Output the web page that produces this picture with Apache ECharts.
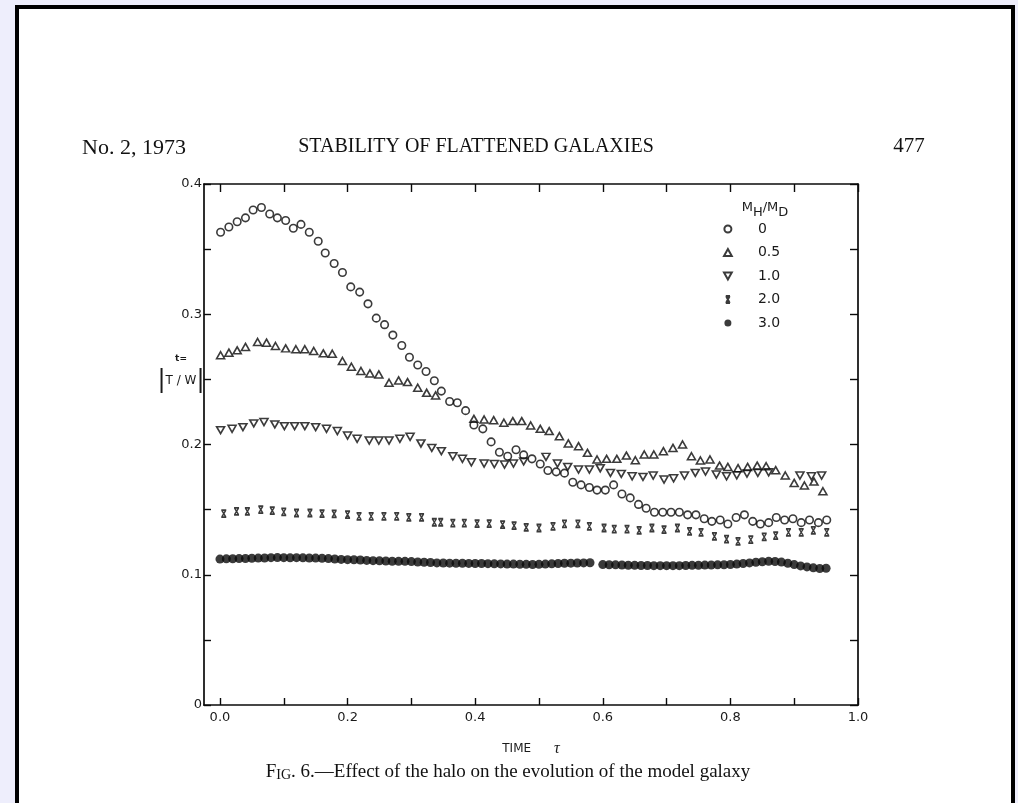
<!DOCTYPE html>
<html><head><meta charset="utf-8">
<script src="https://cdn.jsdelivr.net/npm/echarts@6/dist/echarts.min.js"></script>
<style>
html,body{margin:0;padding:0;background:#eeeefc;width:1018px;height:803px;overflow:hidden;}
#page{position:absolute;left:15px;top:5px;width:992px;height:900px;border:4px solid #000;border-bottom:none;background:#fff;}
#chart{position:absolute;left:0;top:0;width:1018px;height:803px;}
</style></head><body>
<div id="page"></div><div id="chart"></div>
<script>
// ---- data ----
const seriesNames = ['0', '0.5', '1.0', '2.0', '3.0'];

const t0 = [0.001,0.014,0.027,0.040,0.052,0.065,0.078,0.090,0.103,0.115,0.127,0.140,0.154,0.165,0.179,0.192,0.205,0.219,0.232,0.245,0.258,0.271,0.285,0.297,0.310,0.323,0.336,0.347,0.360,0.372,0.385,0.398,0.412,0.425,0.438,0.451,0.464,0.476,0.489,0.502,0.514,0.527,0.540,0.553,0.566,0.579,0.591,0.604,0.617,0.630,0.643,0.656,0.668,0.681,0.694,0.707,0.720,0.733,0.746,0.759,0.771,0.784,0.796,0.809,0.822,0.835,0.847,0.860,0.872,0.885,0.898,0.911,0.924,0.938,0.951];
const v0 = [0.363,0.367,0.371,0.374,0.380,0.382,0.377,0.374,0.372,0.366,0.369,0.363,0.356,0.347,0.339,0.332,0.321,0.317,0.308,0.297,0.292,0.284,0.276,0.267,0.261,0.256,0.249,0.241,0.233,0.232,0.226,0.215,0.212,0.202,0.194,0.191,0.196,0.192,0.189,0.185,0.180,0.179,0.178,0.171,0.169,0.167,0.165,0.165,0.169,0.162,0.159,0.154,0.151,0.148,0.148,0.148,0.148,0.146,0.146,0.143,0.141,0.142,0.139,0.144,0.146,0.141,0.139,0.140,0.144,0.142,0.143,0.140,0.142,0.140,0.142];

const t05 = [0.001,0.014,0.027,0.040,0.059,0.073,0.087,0.103,0.119,0.133,0.147,0.162,0.176,0.192,0.206,0.221,0.235,0.249,0.265,0.280,0.294,0.310,0.324,0.338,0.398,0.414,0.429,0.445,0.459,0.473,0.487,0.502,0.516,0.532,0.546,0.562,0.576,0.591,0.606,0.622,0.637,0.651,0.665,0.680,0.695,0.710,0.725,0.739,0.753,0.768,0.783,0.796,0.812,0.827,0.842,0.856,0.871,0.886,0.900,0.916,0.931,0.945];
const v05 = [0.2685,0.2705,0.2723,0.2749,0.2787,0.2782,0.2756,0.2738,0.2731,0.2731,0.2718,0.2700,0.2697,0.2641,0.2597,0.2564,0.2546,0.2538,0.2474,0.2492,0.2479,0.2436,0.2397,0.2377,0.2197,0.2192,0.2187,0.2167,0.2180,0.2180,0.2146,0.2120,0.2103,0.2064,0.2008,0.1987,0.1936,0.1885,0.1890,0.1890,0.1915,0.1879,0.1923,0.1923,0.1949,0.1974,0.2000,0.1910,0.1877,0.1885,0.1838,0.1828,0.1818,0.1828,0.1838,0.1833,0.1803,0.1762,0.1705,0.1685,0.1715,0.1641];

const t10 = [0.001,0.019,0.036,0.053,0.069,0.086,0.101,0.117,0.133,0.150,0.167,0.184,0.200,0.215,0.234,0.249,0.265,0.282,0.298,0.315,0.332,0.347,0.365,0.380,0.394,0.414,0.430,0.446,0.460,0.476,0.511,0.529,0.545,0.562,0.579,0.596,0.612,0.629,0.646,0.663,0.679,0.696,0.711,0.728,0.745,0.761,0.778,0.794,0.810,0.826,0.843,0.860,0.909,0.927,0.943];
const v10 = [0.2110,0.2120,0.2133,0.2162,0.2172,0.2154,0.2141,0.2141,0.2141,0.2133,0.2120,0.2103,0.2069,0.2044,0.2031,0.2031,0.2031,0.2044,0.2059,0.2008,0.1974,0.1949,0.1910,0.1890,0.1864,0.1854,0.1850,0.1846,0.1854,0.1870,0.1905,0.1854,0.1828,0.1808,0.1808,0.1818,0.1782,0.1774,0.1756,0.1751,0.1762,0.1731,0.1741,0.1762,0.1782,0.1792,0.1769,0.1756,0.1764,0.1777,0.1782,0.1787,0.1762,0.1756,0.1762];

const t20 = [0.006,0.026,0.043,0.064,0.082,0.100,0.120,0.141,0.160,0.179,0.200,0.218,0.237,0.257,0.277,0.296,0.316,0.336,0.346,0.365,0.383,0.403,0.422,0.443,0.461,0.480,0.500,0.522,0.540,0.561,0.579,0.602,0.618,0.638,0.657,0.677,0.696,0.717,0.736,0.754,0.775,0.794,0.812,0.832,0.853,0.871,0.891,0.911,0.930,0.951];
const v20 = [0.1469,0.1487,0.1487,0.1500,0.1492,0.1482,0.1474,0.1474,0.1469,0.1467,0.1462,0.1449,0.1449,0.1449,0.1449,0.1441,0.1441,0.1403,0.1403,0.1397,0.1397,0.1392,0.1392,0.1385,0.1377,0.1364,0.1359,0.1372,0.1390,0.1390,0.1372,0.1359,0.1351,0.1351,0.1341,0.1359,0.1346,0.1359,0.1333,0.1326,0.1295,0.1274,0.1256,0.1269,0.1290,0.1300,0.1326,0.1326,0.1341,0.1326];

const t30 = [0.00,0.01,0.02,0.03,0.04,0.05,0.06,0.07,0.08,0.09,0.10,0.11,0.12,0.13,0.14,0.15,0.16,0.17,0.18,0.19,0.20,0.21,0.22,0.23,0.24,0.25,0.26,0.27,0.28,0.29,0.30,0.31,0.32,0.33,0.34,0.35,0.36,0.37,0.38,0.39,0.40,0.41,0.42,0.43,0.44,0.45,0.46,0.47,0.48,0.49,0.50,0.51,0.52,0.53,0.54,0.55,0.56,0.57,0.58,
  0.60,0.61,0.62,0.63,0.64,0.65,0.66,0.67,0.68,0.69,0.70,0.71,0.72,0.73,0.74,0.75,0.76,0.77,0.78,0.79,0.80,0.81,0.82,0.83,0.84,0.85,0.86,0.87,0.88,0.89,0.90,0.91,0.92,0.93,0.94,0.95];
const v30 = [0.1120,0.1122,0.1123,0.1124,0.1125,0.1127,0.1128,0.1129,0.1131,0.1132,0.1131,0.1130,0.1131,0.1130,0.1129,0.1128,0.1127,0.1124,0.1121,0.1118,0.1116,0.1115,0.1113,0.1110,0.1108,0.1107,0.1106,0.1104,0.1103,0.1103,0.1101,0.1098,0.1096,0.1094,0.1091,0.1090,0.1089,0.1088,0.1088,0.1087,0.1086,0.1086,0.1085,0.1084,0.1083,0.1082,0.1082,0.1081,0.1080,0.1079,0.1080,0.1082,0.1084,0.1086,0.1088,0.1089,0.1090,0.1091,0.1092,
  0.1078,0.1077,0.1076,0.1075,0.1073,0.1072,0.1071,0.1071,0.1070,0.1070,0.1070,0.1070,0.1070,0.1071,0.1072,0.1073,0.1074,0.1075,0.1076,0.1077,0.1079,0.1082,0.1086,0.1091,0.1096,0.1100,0.1103,0.1102,0.1097,0.1088,0.1078,0.1068,0.1060,0.1053,0.1048,0.1050];

const xTickValues = [0,0.1,0.2,0.3,0.4,0.5,0.6,0.7,0.8,0.9,1.0];
const xLabelValues = [0,0.2,0.4,0.6,0.8,1.0];
const yTickValues = [0,0.05,0.1,0.15,0.2,0.25,0.3,0.35,0.4];
const yLabelValues = [0,0.1,0.2,0.3,0.4];

// ---- chart ----
const zip = (a, b) => a.map((t, i) => [t, b[i]]);
const INK = '#0a0a0a';
const SANS = '"DejaVu Sans", sans-serif';
const SERIF = '"Liberation Serif", serif';
const hollow = { color: 'rgba(0,0,0,0)', borderColor: INK, borderWidth: 1.6 };

const axisLine = { show: true, onZero: false, lineStyle: { color: INK, width: 1.7 } };
const tickStyle = { color: INK, width: 1.4 };

const chart = echarts.init(document.getElementById('chart'), null, { renderer: 'canvas' });
chart.setOption({
  backgroundColor: 'transparent',
  animation: false,
  grid: { left: 204, right: 160, top: 184, bottom: 98 },
  xAxis: [
    { type: 'value', position: 'bottom', min: -0.025, max: 1.0,
      axisLine: axisLine,
      axisTick: { show: true, inside: true, length: 7, customValues: xTickValues, lineStyle: tickStyle },
      axisLabel: { customValues: xLabelValues, formatter: v => v.toFixed(1), margin: 6,
                   fontFamily: SANS, fontSize: 13, color: '#1a1a1a' },
      splitLine: { show: false },
      name: 'TIME      {tau|τ}', nameLocation: 'middle', nameGap: 36,
      nameTextStyle: { fontFamily: SANS, fontSize: 12, color: '#1a1a1a',
        rich: { tau: { fontFamily: SERIF, fontSize: 16, fontStyle: 'italic', color: '#1a1a1a' } } } },
    { type: 'value', position: 'top', min: -0.025, max: 1.0,
      axisLine: axisLine,
      axisTick: { show: true, inside: true, length: 8, customValues: xTickValues, lineStyle: tickStyle },
      axisLabel: { show: false }, splitLine: { show: false } }
  ],
  yAxis: [
    { type: 'value', position: 'left', min: 0, max: 0.4,
      axisLine: axisLine,
      axisTick: { show: true, inside: true, length: 7, customValues: yTickValues, lineStyle: tickStyle },
      axisLabel: { customValues: yLabelValues, formatter: v => (v === 0 ? '0' : v.toFixed(1)), margin: 2,
                   fontFamily: SANS, fontSize: 13, color: '#1a1a1a' },
      splitLine: { show: false } },
    { type: 'value', position: 'right', min: 0, max: 0.4,
      axisLine: axisLine,
      axisTick: { show: true, inside: true, length: 8, customValues: yTickValues, lineStyle: tickStyle },
      axisLabel: { show: false }, splitLine: { show: false } }
  ],
  legend: {
    orient: 'vertical', left: 718, top: 217, itemWidth: 8, itemHeight: 7, itemGap: 9.5,
    selectedMode: false, data: seriesNames,
    textStyle: { fontFamily: SANS, fontSize: 14, color: '#1a1a1a', padding: [0, 0, 0, 21] }
  },
  graphic: [
    { type: 'text', x: 134, y: 148, style: { text: 'No. 2, 1973', font: '22px ' + SERIF, fill: '#111', align: 'center', verticalAlign: 'middle' } },
    { type: 'text', x: 476, y: 147, style: { text: 'STABILITY OF FLATTENED GALAXIES', font: '20px ' + SERIF, fill: '#111', align: 'center', verticalAlign: 'middle' } },
    { type: 'text', x: 909, y: 146, style: { text: '477', font: '21px ' + SERIF, fill: '#111', align: 'center', verticalAlign: 'middle' } },
    { type: 'text', x: 508, y: 772, style: {
        text: '{a|F}{b|IG}{a|. 6.—Effect of the halo on the evolution of the model galaxy}',
        align: 'center', verticalAlign: 'middle',
        rich: { a: { fontFamily: SERIF, fontSize: 19, fill: '#111', verticalAlign: 'bottom', lineHeight: 20 },
                b: { fontFamily: SERIF, fontSize: 14, fill: '#111', verticalAlign: 'bottom', lineHeight: 20 } } } },
    { type: 'text', x: 765, y: 210, style: {
        text: '{m|M}{s|H}{m|/M}{s|D}', align: 'center', verticalAlign: 'middle',
        rich: { m: { fontFamily: SANS, fontSize: 13, fill: '#1a1a1a', verticalAlign: 'top', lineHeight: 18 },
                s: { fontFamily: SANS, fontSize: 13, fill: '#1a1a1a', verticalAlign: 'bottom', lineHeight: 18 } } } },
    { type: 'text', x: 181, y: 359, style: { text: 't=', font: 'bold 9px ' + SANS, fill: '#1a1a1a', align: 'center', verticalAlign: 'middle' } },
    { type: 'text', x: 181, y: 381, style: {
        text: '{b||}{t|T / W}{b||}', align: 'center', verticalAlign: 'middle',
        rich: { b: { fontFamily: SANS, fontSize: 24, fill: '#1a1a1a' },
                t: { fontFamily: SANS, fontSize: 12, fill: '#1a1a1a' } } } }
  ],
  series: [
    { name: seriesNames[0], type: 'scatter', silent: true, symbol: 'circle', symbolSize: 7.5,
      itemStyle: hollow, data: zip(t0, v0) },
    { name: seriesNames[1], type: 'scatter', silent: true, symbol: 'path://M5,0L10,9L0,9Z', symbolSize: [8, 7],
      itemStyle: hollow, data: zip(t05, v05) },
    { name: seriesNames[2], type: 'scatter', silent: true, symbol: 'path://M0,0L10,0L5,9Z', symbolSize: [8, 7],
      itemStyle: hollow, data: zip(t10, v10) },
    { name: seriesNames[3], type: 'scatter', silent: true,
      symbol: 'path://M1,0L7,0M1,10L7,10M1.5,0L6.5,10M6.5,0L1.5,10', symbolSize: [5, 7],
      itemStyle: { color: 'rgba(0,0,0,0)', borderColor: INK, borderWidth: 1.5 }, data: zip(t20, v20) },
    { name: seriesNames[4], type: 'scatter', silent: true, symbol: 'circle', symbolSize: 9,
      itemStyle: { color: INK }, data: zip(t30, v30) }
  ]
});
</script></body></html>
